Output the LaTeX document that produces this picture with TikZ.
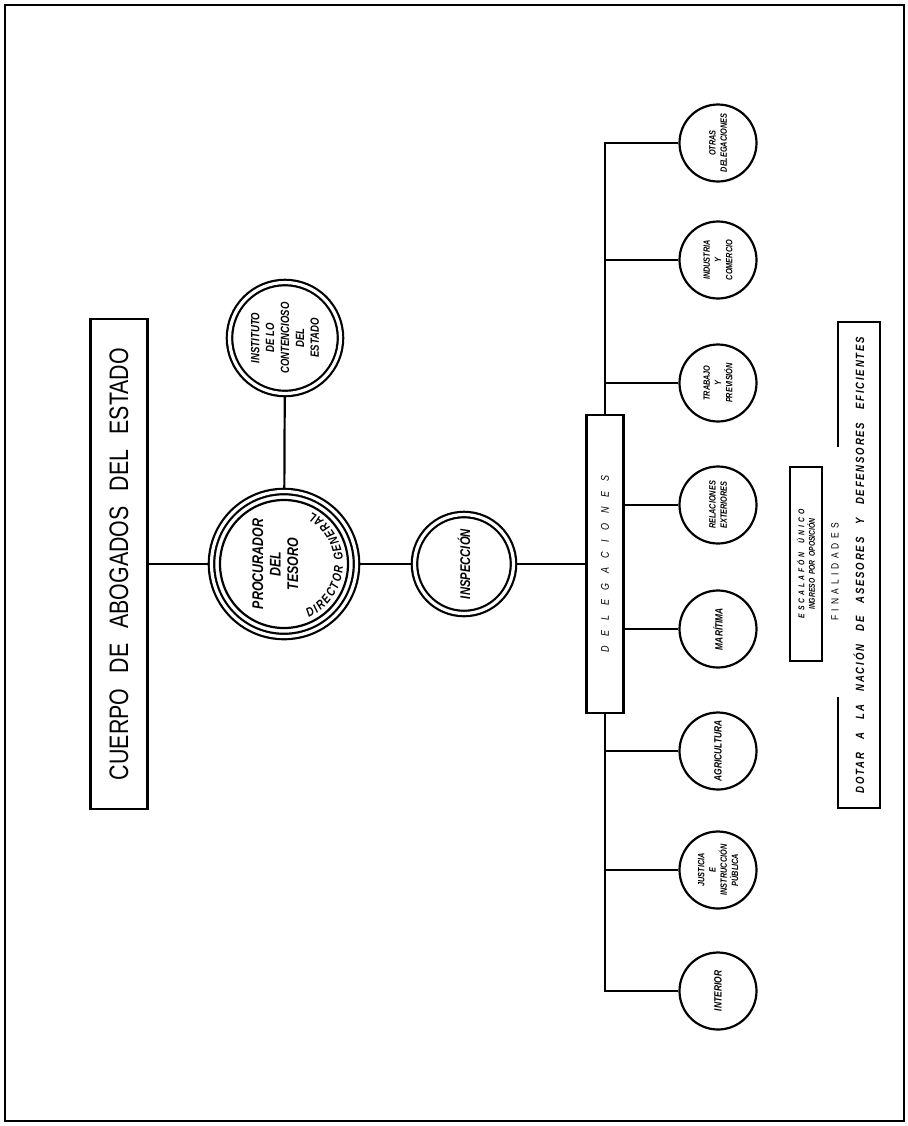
\documentclass[tikz,border=0pt]{standalone}
\usepackage{fontspec}
\setmainfont{Liberation Sans}
\newfontfamily\hand[FakeStretch=0.8]{Liberation Sans}
\usetikzlibrary{calc,backgrounds,decorations.text}

\begin{document}
\begin{tikzpicture}[
  x=0.25mm, y=-0.25mm,
  line width=0.55mm,
  link/.style={line width=0.55mm},
  box/.style={draw, fill=white, rotate=90, align=center, inner sep=0.8mm},
  ring/.style={circle, draw, fill=white, double, double distance=0.8mm, rotate=90, align=center, inner sep=0pt,
    font=\hand\bfseries\itshape\fontsize{9}{10.5}\selectfont},
  dept/.style={circle, draw, fill=white, minimum size=19.25mm, rotate=90, align=center, inner sep=0pt,
    font=\hand\bfseries\itshape\fontsize{6.5}{8}\selectfont},
  deptbig/.style={dept, font=\hand\bfseries\itshape\fontsize{7.5}{8}\selectfont}
]
  \useasboundingbox (0,0) rectangle (908,1126);
  \draw[line width=0.7mm] (5,5) rectangle (904,1121);

  % eje principal
  \node[box, minimum width=122.5mm, minimum height=14.25mm, font=\hand\fontsize{19}{20}\selectfont] (cuerpo) at (119,564)
    {\makebox[108mm][s]{CUERPO DE ABOGADOS DEL ESTADO}};
  \node[ring, minimum size=36.25mm, font=\hand\bfseries\itshape\fontsize{11}{12.5}\selectfont] (proc) at (284,564)
    {PROCURADOR\\DEL\\TESORO\\\mbox{}};
  \draw (proc.center) circle[radius=16mm];
  \path[decorate, decoration={text along path, text align=fit to path,
      text={|\hand\bfseries\itshape\fontsize{9}{9}\selectfont|DIRECTOR GENERAL}}]
    (proc.center) ++(-65:14.75mm) arc[start angle=-65, end angle=62, radius=14.75mm];
  \node[ring, minimum size=27.75mm, font=\hand\bfseries\itshape\fontsize{8.5}{10.6}\selectfont] (inst) at (285,338)
    {INSTITUTO\\DE LO\\CONTENCIOSO\\DEL\\ESTADO};
  \node[ring, minimum size=24.75mm, font=\hand\bfseries\itshape\fontsize{10}{10}\selectfont] (insp) at (464,564)
    {INSPECCIÓN};
  \node[box, minimum width=74.5mm, minimum height=9.25mm,
    font=\hand\itshape\fontsize{8}{9}\selectfont\addfontfeatures{LetterSpace=85}] (deleg) at (605,564) {DELEGACIONES};

  % delegaciones
  \node[dept] (otras) at (718,143) {OTRAS\\DELEGACIONES};
  \node[dept] (ind) at (718,260) {INDUSTRIA\\Y\\COMERCIO};
  \node[dept] (trab) at (718,383) {TRABAJO\\Y\\PREVISIÓN};
  \node[dept] (rel) at (718,505) {RELACIONES\\EXTERIORES};
  \node[deptbig] (mar) at (718,629) {MARÍTIMA};
  \node[deptbig] (agr) at (718,751) {AGRICULTURA};
  \node[dept] (jus) at (718,870) {JUSTICIA\\E\\INSTRUCCIÓN\\PÚBLICA};
  \node[deptbig] (int) at (718,991) {INTERIOR};

  % finalidades
  \node[box, minimum width=48.5mm, minimum height=8mm, inner sep=0.5mm,
    font=\hand\bfseries\itshape\fontsize{6}{7.5}\selectfont] (esc) at (806,564)
    {{\addfontfeatures{LetterSpace=35}ESCALAFÓN~~ÚNICO}\\INGRESO~~POR~~OPOSICIÓN};
  \node[rotate=90, font=\hand\fontsize{7.5}{8}\selectfont\addfontfeatures{LetterSpace=40}] (fintit) at (835,572) {FINALIDADES};
  \node[rotate=90, font=\hand\bfseries\itshape\fontsize{8.5}{9}\selectfont\addfontfeatures{LetterSpace=15}] (fin) at (859,565)
    {\makebox[114mm][s]{DOTAR A LA NACIÓN DE ASESORES Y DEFENSORES EFICIENTES}};
  \draw (838,447) -- (838,322) -- (880,322) -- (880,808) -- (838,808) -- (838,697);

  \begin{scope}[on background layer]
    \draw[link] (cuerpo) -- (proc);
    \draw[link] (proc) -- (inst);
    \draw[link] (proc) -- (insp);
    \draw[link] (insp) -- (deleg);
    \draw[link] (deleg) |- (otras);
    \draw[link] (deleg) |- (ind);
    \draw[link] (deleg) |- (trab);
    \draw[link] (deleg) |- (rel);
    \draw[link] (deleg) |- (mar);
    \draw[link] (deleg) |- (agr);
    \draw[link] (deleg) |- (jus);
    \draw[link] (deleg) |- (int);
  \end{scope}
\end{tikzpicture}
\end{document}
